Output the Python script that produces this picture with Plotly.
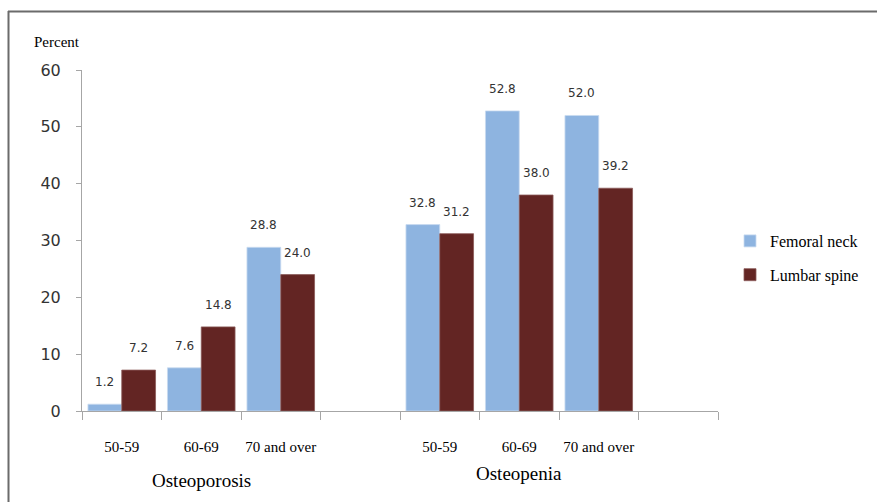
import plotly.graph_objects as go

# Age bands, with an empty slot after each diagnosis group
categories = ["p50", "p60", "p70", "gapA", "n50", "n60", "n70", "gapB"]
tick_labels = ["50-59", "60-69", "70 and over", "", "50-59", "60-69", "70 and over", ""]

bar_cats = ["p50", "p60", "p70", "n50", "n60", "n70"]
femoral_neck = [1.2, 7.6, 28.8, 32.8, 52.8, 52.0]
lumbar_spine = [7.2, 14.8, 24.0, 31.2, 38.0, 39.2]

group_names = ["Osteoporosis", "Osteopenia"]

BLUE = "#8EB4E0"
RED = "#632523"

fig = go.Figure()
fig.add_trace(go.Bar(x=bar_cats, y=femoral_neck, name="Femoral neck",
                     marker=dict(color=BLUE, line=dict(color="#C9DAF0", width=0.8)),
                     legendgroup="a"))
fig.add_trace(go.Bar(x=bar_cats, y=lumbar_spine, name="Lumbar spine",
                     marker=dict(color=RED, line=dict(color="#8A5A59", width=0.8)),
                     legendgroup="b"))

# Value labels sit a little above each bar
label_font = dict(family="DejaVu Sans", size=12, color="#333333")
for series, shift in ((femoral_neck, -17), (lumbar_spine, 17)):
    for c, v in zip(bar_cats, series):
        fig.add_annotation(x=c, y=v, text=f"{v:.1f}", showarrow=False,
                           xshift=shift, yshift=22, font=label_font)

# Group titles under the age bands
serif = "Liberation Serif"
fig.add_annotation(x="p60", y=0, yref="paper", text=group_names[0], showarrow=False,
                   yshift=-82, font=dict(family=serif, size=19, color="#000000"))
fig.add_annotation(x="n60", y=0, yref="paper", text=group_names[1], showarrow=False,
                   yshift=-75, font=dict(family=serif, size=19, color="#000000"))

fig.add_annotation(xref="paper", yref="paper", x=(57 - 82) / 636, y=(411 - 42) / 341,
                   text="Percent", showarrow=False, xanchor="center", yanchor="middle",
                   font=dict(family=serif, size=15, color="#000000"))

# Frame lines along the top and left edge of the canvas
fig.add_shape(type="line", xref="paper", yref="paper",
              x0=(8 - 82) / 636, x1=(877 - 82) / 636,
              y0=(411 - 11.5) / 341, y1=(411 - 11.5) / 341,
              line=dict(color="#6B6B6B", width=2))
fig.add_shape(type="line", xref="paper", yref="paper",
              x0=(8.5 - 82) / 636, x1=(8.5 - 82) / 636,
              y0=(411 - 11) / 341, y1=(411 - 520) / 341,
              line=dict(color="#6B6B6B", width=2))

fig.update_layout(
    width=877, height=502,
    margin=dict(l=82, r=159, t=70, b=91),
    paper_bgcolor="white", plot_bgcolor="white",
    barmode="group", bargap=0.15, bargroupgap=0,
    showlegend=True,
    legend=dict(x=(730 - 82) / 636, y=(411 - 224) / 341, xanchor="left", yanchor="top",
                traceorder="grouped", tracegroupgap=10,
                font=dict(family=serif, size=16, color="#000000"),
                bgcolor="rgba(0,0,0,0)"),
    xaxis=dict(type="category", categoryorder="array", categoryarray=categories,
               tickmode="array", tickvals=categories, ticktext=tick_labels,
               range=[-0.5, 7.5], tickson="boundaries", tickangle=0,
               showline=True, linecolor="#A6A6A6", linewidth=1,
               ticks="outside", ticklen=8, tickcolor="#A6A6A6",
               ticklabelstandoff=22,
               tickfont=dict(family=serif, size=15, color="#000000"),
               showgrid=False, zeroline=False),
    yaxis=dict(range=[0, 60], tickvals=[0, 10, 20, 30, 40, 50, 60],
               showline=True, linecolor="#A6A6A6", linewidth=1,
               ticks="outside", ticklen=5, tickcolor="#A6A6A6",
               ticklabelstandoff=12,
               tickfont=dict(family="DejaVu Sans", size=16, color="#333333"),
               showgrid=False, zeroline=False),
)

fig.write_html("out.html")
